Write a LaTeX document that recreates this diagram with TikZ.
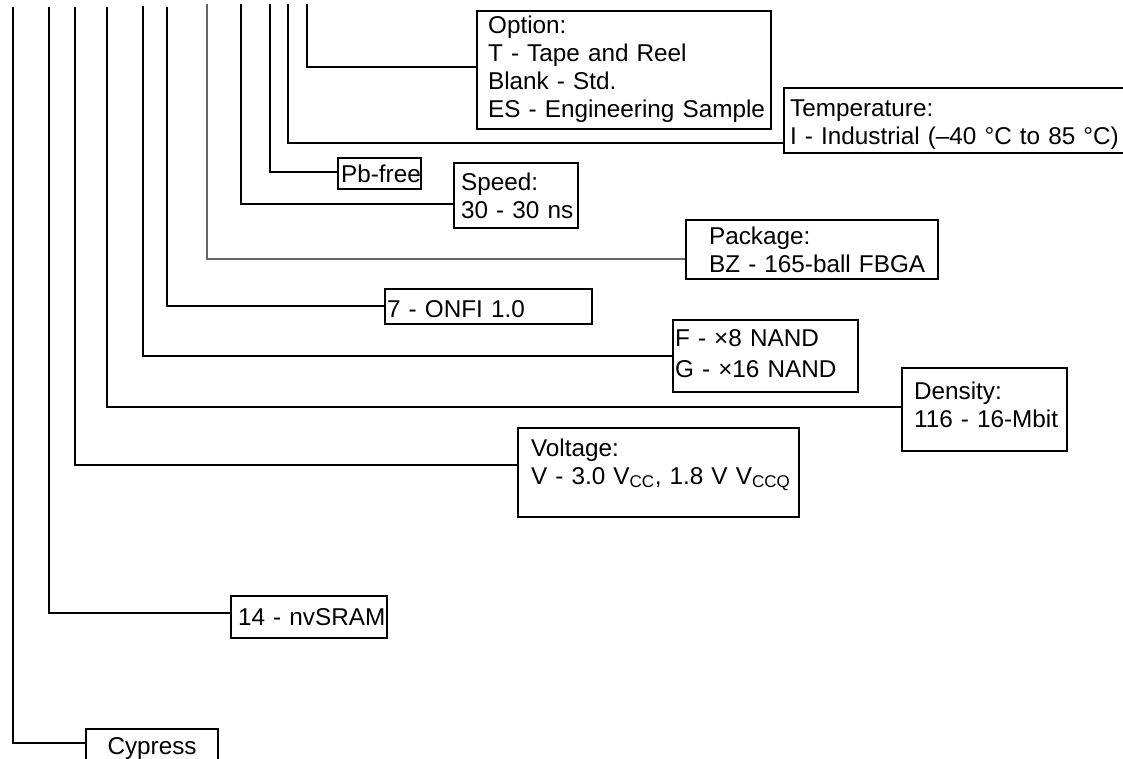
\documentclass[tikz,border=0pt]{standalone}
\usepackage{fontspec}
\setmainfont{Liberation Sans}
\tikzset{
  box/.style={draw, line width=2.2pt, anchor=north west, inner xsep=0pt, inner ysep=0pt,
    align=left, font=\fontsize{24.3}{28}\selectfont},
  conn/.style={line width=2.2pt},
  thinconn/.style={line width=1.3pt, draw=black!60},
}
\begin{document}
\begin{tikzpicture}[x=1pt,y=-1pt]
\useasboundingbox (0,0) rectangle (1123,759);
\clip (0,0) rectangle (1123,759);
% boxes
\node[box, text width=294pt, text height=22pt, text depth=96pt] (opt) at (476,10)
  {\leftskip=11pt\relax Option:\\T - Tape and Reel\\Blank - Std.\\ES - Engineering Sample\par};
\node[box, text width=360pt, text height=28pt, text depth=37pt] (temp) at (783,87)
  {\leftskip=6pt\relax Temperature:\\I - Industrial (–40 °C to 85 °C)\par};
\node[box, text width=83pt, text height=24pt, text depth=7pt] (pb) at (337,157)
  {\leftskip=3pt\relax Pb-free\par};
\node[box, text width=124pt, text height=27pt, text depth=38pt] (speed) at (453,162)
  {\leftskip=7pt\relax Speed:\\30 - 30 ns\par};
\node[box, text width=252pt, text height=24pt, text depth=35pt] (pkg) at (685,219)
  {\leftskip=23pt\relax Package:\\BZ - 165-ball FBGA\par};
\node[box, text width=207pt, text height=28pt, text depth=7pt] (onfi) at (384,288)
  {\leftskip=2pt\relax 7 - ONFI 1.0\par};
\node[box, text width=185pt, text height=26pt, text depth=46pt] (nand) at (672,319)
  {\leftskip=2pt\relax\baselineskip=31pt F - ×8 NAND\\G - ×16 NAND\par};
\node[box, text width=165pt, text height=31pt, text depth=52pt] (dens) at (901,367)
  {\leftskip=12pt\relax Density:\\116 - 16-Mbit\par};
\node[box, text width=281pt, text height=28pt, text depth=61pt] (volt) at (517,427)
  {\leftskip=13pt\relax Voltage:\\V - 3.0 V\textsubscript{CC}, 1.8 V V\textsubscript{CCQ}\par};
\node[box, text width=156pt, text height=29pt, text depth=13pt] (sram) at (230,595)
  {\leftskip=7pt\relax 14 - nvSRAM\par};
\node[box, align=center, text width=132pt, text height=25pt, text depth=30pt] (cyp) at (85,728)
  {Cypress};
% connector tops
\coordinate (t1) at (13,7);
\coordinate (t2) at (49,7);
\coordinate (t3) at (75,7);
\coordinate (t4) at (107,7);
\coordinate (t5) at (143,6);
\coordinate (t6) at (167,7);
\coordinate (t7) at (207,4);
\coordinate (t8) at (241,4);
\coordinate (t9) at (270,4);
\coordinate (t10) at (288,4);
\coordinate (t11) at (307,4);
% connectors
\draw[conn] (t1) |- ([yshift=-15pt]cyp.north west);
\draw[conn] (t2) |- ([yshift=-18pt]sram.north west);
\draw[conn] (t3) |- ([yshift=-38pt]volt.north west);
\draw[conn] (t4) |- ([yshift=-40pt]dens.north west);
\draw[conn] (t5) |- ([yshift=-37pt]nand.north west);
\draw[conn] (t6) |- ([yshift=-18pt]onfi.north west);
\draw[thinconn] (t7) |- ([yshift=-40pt]pkg.north west);
\draw[conn] (t8) |- ([yshift=-42pt]speed.north west);
\draw[conn] (t9) |- ([yshift=-15pt]pb.north west);
\draw[conn] (t10) |- ([yshift=-56pt]temp.north west);
\draw[conn] (t11) |- ([yshift=-57pt]opt.north west);
\end{tikzpicture}
\end{document}
